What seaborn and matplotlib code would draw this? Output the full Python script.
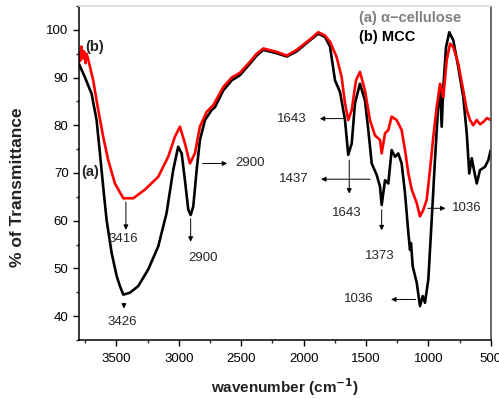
import numpy as np
import matplotlib
matplotlib.use("Agg")
import matplotlib.pyplot as plt
from matplotlib.ticker import MultipleLocator
import seaborn as sns

# FTIR spectra (wavenumber cm-1, % transmittance)
wn_a = [3801, 3753, 3699, 3659, 3632, 3606, 3579, 3538, 3498, 3472, 3445, 3392,
        3325, 3245, 3165, 3098, 3045, 3005, 2977, 2951, 2924, 2905, 2884, 2857,
        2831, 2790, 2737, 2710, 2644, 2576, 2510, 2430, 2376, 2323, 2216, 2135,
        2055, 1949, 1882, 1828, 1788, 1748, 1708, 1668, 1642, 1614, 1588, 1548,
        1508, 1481, 1454, 1414, 1387, 1374, 1347, 1321, 1294, 1267, 1241, 1214,
        1187, 1160, 1147, 1139, 1125, 1093, 1067, 1045, 1027, 1000, 973, 947,
        920, 906, 893, 880, 858, 832, 800, 760, 720, 692, 672, 652, 634, 612,
        586, 546, 519, 500]
t_a = [92.9, 90.1, 86.6, 81.1, 74.1, 67.1, 60.2, 53.2, 48.4, 46.3, 44.5, 44.9,
       46.3, 49.8, 54.6, 61.6, 70.6, 75.5, 74.1, 68.5, 62.3, 61.2, 63.0, 70.6,
       76.9, 81.1, 83.2, 83.8, 87.3, 89.4, 90.5, 92.9, 94.6, 95.8, 95.1, 94.4,
       95.5, 97.8, 99.2, 98.5, 96.5, 89.4, 87.0, 81.1, 73.8, 76.2, 84.6, 88.7,
       85.2, 79.0, 72.0, 69.6, 67.1, 63.3, 68.5, 67.8, 74.8, 73.4, 74.1, 72.0,
       65.8, 57.4, 53.9, 55.3, 50.4, 47.0, 42.1, 44.2, 42.8, 47.7, 60.2, 72.7,
       84.6, 88.0, 79.7, 88.0, 96.4, 99.5, 97.8, 92.2, 85.9, 78.3, 69.9, 73.1,
       70.6, 67.8, 70.6, 71.3, 72.7, 74.8]

wn_b = [3801, 3790, 3780, 3770, 3760, 3748, 3740, 3726, 3686, 3646, 3606, 3566,
        3512, 3445, 3365, 3272, 3165, 3085, 3031, 2991, 2951, 2911, 2871, 2831,
        2777, 2724, 2644, 2576, 2510, 2430, 2376, 2323, 2216, 2135, 2055, 1949,
        1882, 1828, 1788, 1735, 1695, 1668, 1642, 1614, 1580, 1548, 1508, 1468,
        1428, 1387, 1374, 1347, 1321, 1294, 1254, 1214, 1187, 1160, 1133, 1093,
        1067, 1040, 1013, 987, 960, 933, 906, 880, 853, 826, 800, 760, 720, 692,
        666, 640, 612, 585, 559, 530, 500]
t_b = [95.3, 93.5, 96.5, 94.0, 95.5, 93.0, 95.0, 93.8, 89.4, 83.2, 77.6, 72.7,
       67.8, 64.7, 64.7, 66.5, 69.2, 73.4, 77.6, 79.7, 76.2, 72.0, 74.1, 79.7,
       82.8, 84.2, 88.0, 90.0, 91.0, 93.3, 95.0, 96.1, 95.4, 94.6, 95.8, 98.0,
       99.5, 98.8, 97.5, 94.3, 90.1, 84.6, 81.1, 83.2, 89.4, 91.2, 87.3, 81.1,
       77.9, 76.9, 74.1, 78.3, 79.0, 81.8, 81.1, 79.0, 74.8, 69.9, 66.5, 63.7,
       60.9, 62.3, 64.4, 70.6, 77.6, 83.8, 88.7, 85.9, 93.6, 97.1, 96.4, 92.9,
       87.3, 83.2, 81.1, 80.0, 81.1, 80.2, 80.7, 81.5, 81.1]

sns.set_theme(style="ticks")
plt.rcParams["font.family"] = ["Liberation Sans", "DejaVu Sans"]

fig = plt.figure(figsize=(4.99, 3.99), dpi=100)
ax = fig.add_axes([0.1583, 0.1479, 0.8251, 0.8371])

sns.lineplot(x=wn_a, y=t_a, color="black", lw=1.9, sort=False, estimator=None, ax=ax)
sns.lineplot(x=wn_b, y=t_b, color="#ff0000", lw=1.9, sort=False, estimator=None, ax=ax)

ax.set_xlim(3800, 500)
ax.set_ylim(35, 105)
ax.xaxis.set_major_locator(MultipleLocator(500))
ax.xaxis.set_minor_locator(MultipleLocator(250))
ax.yaxis.set_major_locator(MultipleLocator(10))
ax.yaxis.set_minor_locator(MultipleLocator(5))
ax.set_yticks([40, 50, 60, 70, 80, 90, 100])
ax.tick_params(which="major", direction="out", length=4.5, width=1, labelsize=9.5,
               colors="black", pad=3)
ax.tick_params(which="minor", direction="out", length=2.5, width=1)
ax.tick_params(axis="x", which="major", pad=5)
for s in ["left", "bottom"]:
    ax.spines[s].set_color("black")
    ax.spines[s].set_linewidth(1.1)
ax.spines["right"].set_visible(True)
ax.spines["right"].set_color("#555555")
ax.spines["top"].set_visible(True)
ax.spines["top"].set_color("#dddddd")

ax.set_xlabel("wavenumber (cm$^{\\mathbf{-1}}$)", fontsize=11, fontweight="bold",
              color="#222222", labelpad=8)
ax.set_ylabel("% of Transmittance", fontsize=12.5, fontweight="bold", color="#222222")
ax.yaxis.set_label_coords(-0.13, 0.458)

arw = dict(arrowstyle="-|>", color="black", lw=0.7, mutation_scale=7)
fs = 9.5
# vertical arrows
ax.annotate("", xy=(3424, 57.5), xytext=(3424, 64.5), arrowprops=arw)
ax.text(3448, 56.2, "3416", fontsize=fs, ha="center", va="center")
ax.annotate("", xy=(3440, 41.0), xytext=(3440, 43.3), arrowprops=arw)
ax.text(3453, 38.7, "3426", fontsize=fs, ha="center", va="center")
ax.annotate("", xy=(2905, 55.0), xytext=(2905, 61.0), arrowprops=arw)
ax.text(2805, 52.1, "2900", fontsize=fs, ha="center", va="center")
ax.annotate("", xy=(1634, 65.1), xytext=(1634, 73.3), arrowprops=arw)
ax.text(1654, 61.6, "1643", fontsize=fs, ha="center", va="center")
ax.annotate("", xy=(1374, 57.4), xytext=(1374, 62.9), arrowprops=arw)
ax.text(1387, 52.7, "1373", fontsize=fs, ha="center", va="center")
# horizontal arrows
ax.annotate("", xy=(2590, 72.0), xytext=(2831, 72.0), arrowprops=arw)
ax.text(2550, 72.0, "2900", fontsize=fs, ha="left", va="center")
ax.annotate("", xy=(1892, 81.4), xytext=(1644, 81.4), arrowprops=arw)
ax.text(1975, 81.4, "1643", fontsize=fs, ha="right", va="center")
ax.annotate("", xy=(1882, 68.7), xytext=(1444, 68.7), arrowprops=arw)
ax.text(1962, 68.7, "1437", fontsize=fs, ha="right", va="center")
ax.annotate("", xy=(840, 62.6), xytext=(1027, 62.6), arrowprops=arw)
ax.text(813, 62.6, "1036", fontsize=fs, ha="left", va="center")
ax.annotate("", xy=(1321, 43.5), xytext=(1080, 43.5), arrowprops=arw)
ax.text(1441, 43.5, "1036", fontsize=fs, ha="right", va="center")

# curve labels
ax.text(3779, 70.3, "(a)", fontsize=10.5, fontweight="bold", ha="left", va="center")
ax.text(3752, 96.4, "(b)", fontsize=10.5, fontweight="bold", ha="left", va="center")

# legend-like text
fig.text(0.7194, 0.954, "(a) α−cellulose", fontsize=10.5, fontweight="bold",
         color="#808080", ha="left", va="center")
fig.text(0.7194, 0.9065, "(b) MCC", fontsize=10.5, fontweight="bold",
         color="black", ha="left", va="center")

fig.savefig("out.png", dpi=100)
